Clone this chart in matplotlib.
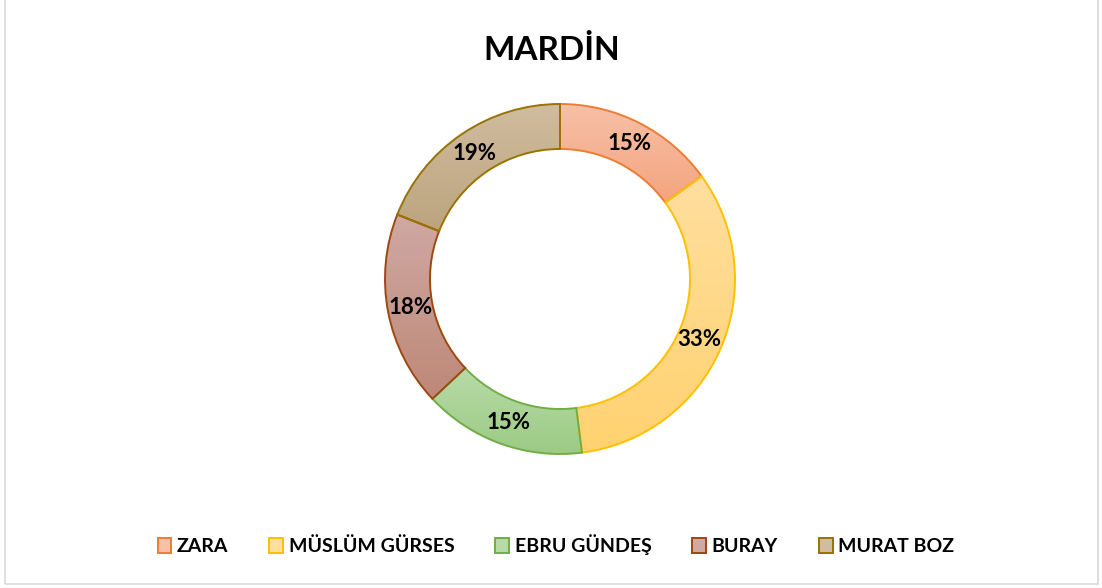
import numpy as np
import matplotlib.pyplot as plt
from matplotlib.patches import Patch, Rectangle
from matplotlib.colors import LinearSegmentedColormap

plt.rcParams['font.family'] = ['Lato', 'DejaVu Sans']

# data
title = "MARDİN"
names = ["ZARA", "MÜSLÜM GÜRSES", "EBRU GÜNDEŞ", "BURAY", "MURAT BOZ"]
shares = [15, 33, 15, 18, 19]

# gradient fills (top, bottom) and outline colours
fill_top = ["#F7C0A8", "#FFDE9E", "#B8DAA8", "#CFA9A3", "#D0BC9F"]
fill_bot = ["#F4A47E", "#FFD270", "#9CCB84", "#BE8878", "#BCA47E"]
edges = ["#ED7D31", "#FFC000", "#70AD47", "#9E480E", "#997300"]

W, H = 1102, 588
fig = plt.figure(figsize=(W / 100, H / 100), dpi=100)

# chart frame
frame = Rectangle((5 / W, 4 / H), 1093 / W, 1.2, transform=fig.transFigure,
                  fill=False, edgecolor="#D9D9D9", linewidth=1.2)
fig.patches.append(frame)

cx, cy, r = 560, 279, 175
pad = 182
ax = fig.add_axes([(cx - pad) / W, (H - cy - pad) / H, 2 * pad / W, 2 * pad / H])
lim = pad / r
ax.set_aspect("equal")
ax.axis("off")

wedges, texts, autotexts = ax.pie(
    shares, startangle=90, counterclock=False, radius=1,
    colors=fill_bot, autopct=lambda p: f"{p:.0f}%", pctdistance=0.87,
    wedgeprops=dict(width=0.257, linewidth=1.4),
    textprops=dict(fontsize=16, fontweight="bold", color="black"))

for w, top, bot, ec in zip(wedges, fill_top, fill_bot, edges):
    w.set_edgecolor(ec)
    w.set_facecolor("none")
    w.set_zorder(3)
    bb = w.get_path().get_extents()
    cmap = LinearSegmentedColormap.from_list("g", [bot, top])
    grad = np.linspace(0, 1, 256).reshape(-1, 1)
    im = ax.imshow(grad, cmap=cmap, origin="lower", aspect="auto",
                   extent=[bb.x0, bb.x1, bb.y0, bb.y1], zorder=2)
    im.set_clip_path(w)
for t in autotexts:
    t.set_zorder(4)
ax.set_xlim(-lim, lim)
ax.set_ylim(-lim, lim)

fig.text(552 / W, 1 - 50 / H, title, ha="center", va="center",
         fontsize=24, fontweight="bold")

handles = [Patch(facecolor=c, edgecolor=e, linewidth=1.4) for c, e in zip(fill_top, edges)]
fig.legend(handles, names, loc="center", bbox_to_anchor=(556 / W, 1 - 545 / H),
           ncol=5, frameon=False, handlelength=0.7, handleheight=0.85,
           handletextpad=0.3, columnspacing=2.1,
           prop=dict(size=14, weight="bold"))

fig.savefig("out.png", dpi=100)
